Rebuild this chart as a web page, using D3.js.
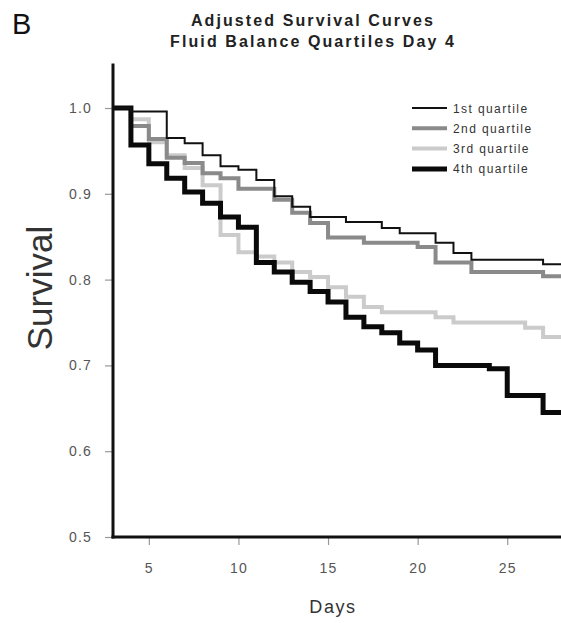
<!DOCTYPE html>
<html>
<head>
<meta charset="utf-8">
<script src="https://cdn.jsdelivr.net/npm/d3@7"></script>
<style>
  body { margin: 0; background: #fff; }
  svg text { font-family: "Liberation Sans", Arial, sans-serif; }
</style>
</head>
<body>
<svg id="chart"></svg>
<script>
const width = 561;
const height = 623;

// survival steps (day where the step starts, survival)
const days1 = [3, 4, 6, 7, 8, 9, 10, 11, 12, 13, 14, 16, 18, 19, 21, 22, 23, 27, 28];
const surv1 = [1.0, 0.996, 0.965, 0.959, 0.945, 0.932, 0.928, 0.916, 0.897, 0.885, 0.873, 0.867, 0.860, 0.854, 0.843, 0.831, 0.823, 0.818, 0.818];

const days2 = [3, 4, 5, 6, 7, 8, 9, 10, 12, 13, 14, 15, 17, 20, 21, 23, 27, 28];
const surv2 = [1.0, 0.979, 0.964, 0.942, 0.936, 0.924, 0.918, 0.906, 0.893, 0.878, 0.866, 0.849, 0.843, 0.838, 0.820, 0.809, 0.804, 0.804];

const days3 = [3, 4, 5, 6, 7, 8, 9, 10, 11, 12, 13, 14, 15, 16, 17, 18, 21, 22, 26, 27, 28];
const surv3 = [1.0, 0.987, 0.960, 0.945, 0.930, 0.910, 0.852, 0.832, 0.827, 0.820, 0.809, 0.803, 0.791, 0.780, 0.768, 0.762, 0.756, 0.750, 0.744, 0.733, 0.733];

const days4 = [3, 4, 5, 6, 7, 8, 9, 10, 11, 12, 13, 14, 15, 16, 17, 18, 19, 20, 21, 24, 25, 27, 28];
const surv4 = [1.0, 0.957, 0.935, 0.918, 0.902, 0.889, 0.873, 0.861, 0.820, 0.809, 0.797, 0.786, 0.774, 0.756, 0.745, 0.738, 0.726, 0.718, 0.700, 0.696, 0.665, 0.645, 0.645];

const seriesNames = ["1st quartile", "2nd quartile", "3rd quartile", "4th quartile"];
const xTicks = [5, 10, 15, 20, 25];
const yTicks = [0.5, 0.6, 0.7, 0.8, 0.9, 1.0];

const styles = [
    { color: "#111", width: 2 },
    { color: "#8a8a8a", width: 4 },
    { color: "#cbcbcb", width: 4 },
    { color: "#0a0a0a", width: 5 }
];

const series = [
    { name: seriesNames[0], days: days1, surv: surv1, style: styles[0] },
    { name: seriesNames[1], days: days2, surv: surv2, style: styles[1] },
    { name: seriesNames[2], days: days3, surv: surv3, style: styles[2] },
    { name: seriesNames[3], days: days4, surv: surv4, style: styles[3] }
];

const svg = d3.select("#chart")
    .attr("width", width)
    .attr("height", height);

const x = d3.scaleLinear().domain([3, 28]).range([113, 561]);
const y = d3.scaleLinear().domain([0.5, 1.0]).range([537, 108]);

// panel letter and title
svg.append("text")
    .attr("x", 12)
    .attr("y", 34)
    .style("font-size", "29px")
    .style("fill", "#111")
    .text("B");

const title = svg.append("text")
    .attr("text-anchor", "middle")
    .style("font-size", "16px")
    .style("font-weight", "bold")
    .style("letter-spacing", "2.1px")
    .style("fill", "#222");
title.append("tspan").attr("x", 313).attr("y", 26).text("Adjusted Survival Curves");
title.append("tspan").attr("x", 313).attr("y", 47).text("Fluid Balance Quartiles Day 4");

// axes
const yAxis = svg.append("g")
    .attr("transform", `translate(${x(3)},0)`)
    .call(d3.axisLeft(y).tickValues(yTicks).tickFormat(d3.format(".1f")).tickSize(8).tickPadding(13));

const xAxis = svg.append("g")
    .attr("transform", `translate(0,${y(0.5)})`)
    .call(d3.axisBottom(x).tickValues(xTicks).tickSize(8).tickPadding(18));

[yAxis, xAxis].forEach(a => {
    a.select(".domain").remove();
    a.selectAll(".tick line").attr("stroke", "#999").attr("stroke-width", 1.2);
    a.selectAll(".tick text")
        .style("font-size", "14px")
        .style("letter-spacing", "1.2px")
        .style("fill", "#555")
        .style("font-family", "'Liberation Sans', Arial, sans-serif");
});

// curves
const line = d3.line()
    .x(d => x(d[0]))
    .y(d => y(d[1]))
    .curve(d3.curveStepAfter);

const drawOrder = [2, 1, 3, 0];
drawOrder.forEach(i => {
    const s = series[i];
    svg.append("path")
        .datum(s.days.map((d, j) => [d, s.surv[j]]))
        .attr("fill", "none")
        .attr("stroke", s.style.color)
        .attr("stroke-width", s.style.width)
        .attr("stroke-linejoin", "miter")
        .attr("d", line);
});

// axis lines on top
svg.append("line")
    .attr("x1", x(3)).attr("x2", x(3))
    .attr("y1", y(1.052)).attr("y2", y(0.5) + 1.5)
    .attr("stroke", "#111").attr("stroke-width", 3);
svg.append("line")
    .attr("x1", x(3) - 1.5).attr("x2", width)
    .attr("y1", y(0.5)).attr("y2", y(0.5))
    .attr("stroke", "#111").attr("stroke-width", 3);

// axis titles
svg.append("text")
    .attr("x", 333)
    .attr("y", 613)
    .attr("text-anchor", "middle")
    .style("font-size", "18px")
    .style("letter-spacing", "1.6px")
    .style("fill", "#333")
    .text("Days");

svg.append("text")
    .attr("transform", "translate(52,288) rotate(-90)")
    .attr("text-anchor", "middle")
    .style("font-size", "35px")
    .style("fill", "#333")
    .text("Survival");

// legend
const legend = svg.append("g").attr("transform", "translate(412,108)");
series.forEach((s, i) => {
    const g = legend.append("g").attr("transform", `translate(0,${i * 20.3})`);
    g.append("line")
        .attr("x1", 0).attr("x2", 35)
        .attr("stroke", s.style.color)
        .attr("stroke-width", s.style.width);
    g.append("text")
        .attr("x", 41)
        .attr("y", 4.5)
        .style("font-size", "12px")
        .style("letter-spacing", "1.4px")
        .style("fill", "#333")
        .text(s.name);
});
</script>
</body>
</html>
